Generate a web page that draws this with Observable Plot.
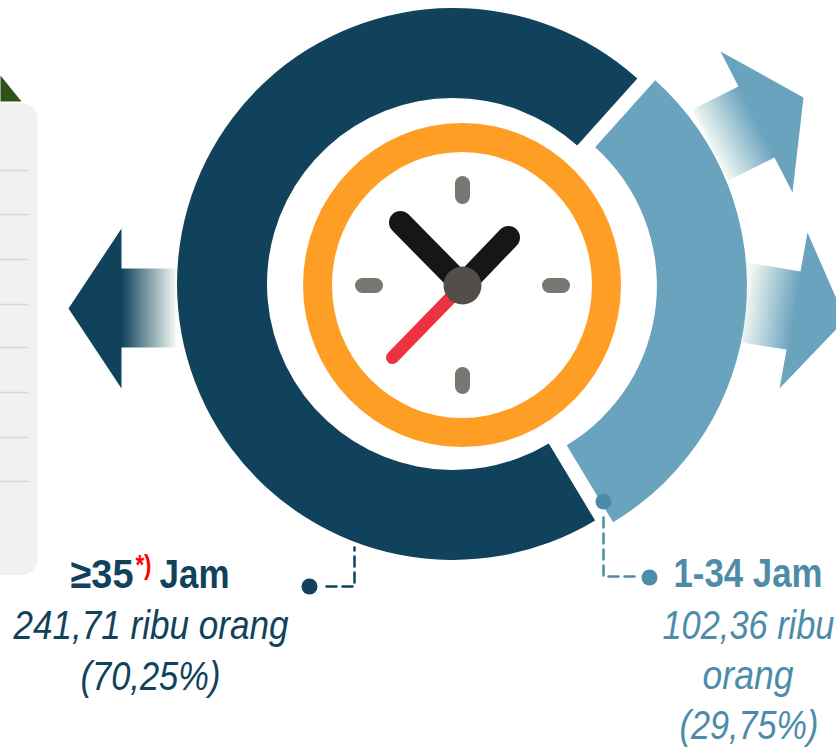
<!DOCTYPE html>
<html>
<head>
<meta charset="utf-8">
<script src="https://cdn.jsdelivr.net/npm/d3@7"></script>
<script src="https://cdn.jsdelivr.net/npm/@observablehq/plot@0.6"></script>
<style>html,body{margin:0;padding:0;background:#fff;overflow:hidden}svg{display:block}</style>
</head>
<body>
<div id="chart"></div>
<script>
// Data
const hourGroups = ["≥35", "1-34"];
const unitLabel = "Jam";
const footnoteMark = "*)";
const workers = [241.71, 102.36];
const shares = [70.25, 29.75];

// Palette
const DARK = "#11425C", LIGHT = "#6AA3BE", LIGHT_TEXT = "#4D8CA9", FADE = "#F2F8F3";
const FONT = "Liberation Sans";
const fmt = (v) => d3.format(".2f")(v).replace(".", ",");

// Shapes
const pt = (x, y) => ({x, y});
const poly = (pts, fill) => Plot.line(pts, {x: "x", y: "y", fill, stroke: "none"});
const seg = (x1, y1, x2, y2, stroke, strokeWidth) =>
  Plot.link([0], {x1, y1, x2, y2, stroke, strokeWidth, strokeLinecap: "round"});
const dot = (x, y, r, fill) => Plot.dot([0], {x, y, r, fill, stroke: "none"});
const ellipse = (cx, cy, rx, ry, fill) => (index, {x, y}) =>
  d3.create("svg:ellipse").attr("cx", x(cx)).attr("cy", y(cy))
    .attr("rx", rx).attr("ry", ry).attr("fill", fill).node();

// Text condensed horizontally to the width it has in the chart
const ruler = document.createElement("canvas").getContext("2d");
const condense = (str, width, font) => (i, s, v, d, c, next) => {
  const g = next(i, s, v, d, c);
  ruler.font = font;
  const sx = width / ruler.measureText(str).width;
  d3.select(g).selectAll("text").attr("transform", function () {
    return `${this.getAttribute("transform") || ""} scale(${sx},1)`;
  });
  return g;
};
const label = (str, x, y, width, fill, {fontWeight = "normal", fontStyle = "normal", fontSize = 41} = {}) =>
  Plot.text([str], {
    text: (d) => d, x, y, fill, textAnchor: "start", lineAnchor: "bottom",
    fontFamily: FONT, fontSize, fontWeight, fontStyle,
    render: condense(str, width, `${fontStyle} ${fontWeight} ${fontSize}px "${FONT}"`)
  });
const BOLD = {fontWeight: "bold"}, ITALIC = {fontStyle: "italic"};

// Gradient defs, placed through the position scales
function gradient(id, x1, y1, x2, y2, from, to) {
  return (index, {x, y}) => {
    const g = d3.create("svg:defs").append("linearGradient")
      .attr("id", id).attr("gradientUnits", "userSpaceOnUse")
      .attr("x1", x(x1)).attr("y1", y(y1)).attr("x2", x(x2)).attr("y2", y(y2));
    g.append("stop").attr("offset", 0).attr("stop-color", from);
    g.append("stop").attr("offset", 1).attr("stop-color", to);
    return g.node().parentNode;
  };
}

// Exploded donut drawn from the shares
const explode = [0, 18];
function donut(index, {x, y}) {
  const start = 149 * Math.PI / 180;
  const slices = d3.pie().sort(null).startAngle(start).endAngle(start + 2 * Math.PI)(shares);
  const arc = d3.arc().innerRadius(186).outerRadius(276);
  const g = d3.create("svg:g");
  slices.forEach((s, i) => {
    const mid = (s.startAngle + s.endAngle) / 2;
    const cx = x(453) + explode[i] * Math.sin(mid);
    const cy = y(284) - explode[i] * Math.cos(mid);
    g.append("path").attr("d", arc(s)).attr("fill", [DARK, LIGHT][i])
      .attr("transform", `translate(${cx},${cy})`);
  });
  return g.node();
}

const tableRules = [170, 214, 259, 304, 347, 392, 437, 481];

const chart = Plot.plot({
  width: 836, height: 748, margin: 0,
  style: {background: "#fff", overflow: "hidden"},
  x: {domain: [0, 836], range: [0, 836], axis: null},
  y: {domain: [0, 748], range: [0, 748], axis: null},
  marks: [
    gradient("gLeft", 121, 308, 175, 308, DARK, FADE),
    gradient("gUp", 710, 145, 756, 121, FADE, LIGHT),
    gradient("gRight", 745, 302, 795, 310, FADE, LIGHT),

    // Cropped table panel on the left
    poly([pt(0, 75), pt(21, 101), pt(0, 101)], "#2F5219"),
    Plot.rect([0], {x1: -30, x2: 37.5, y1: 103, y2: 575, fill: "#F1F1F1", rx: 16}),
    Plot.ruleY(tableRules, {x1: 0, x2: 28, y: (d) => d, stroke: "#D6D6D6", strokeWidth: 1.5}),

    // Arrows
    poly([pt(175, 268), pt(121, 268), pt(121, 228), pt(68, 308), pt(121, 388), pt(121, 347), pt(175, 347)], "url(#gLeft)"),
    poly([pt(692, 109), pt(738, 86), pt(720, 51), pt(803, 97), pt(792, 192), pt(774, 157), pt(728, 180)], "url(#gUp)"),
    poly([pt(746, 262), pt(800, 271), pt(807, 232), pt(845, 319), pt(779, 388), pt(786, 349), pt(741, 342)], "url(#gRight)"),

    donut,

    // Clock
    ellipse(462, 285, 159, 162, "#FF9E25"),
    ellipse(462, 285, 130, 133, "#FFFFFF"),
    seg(462, 183, 462, 196, "#7A7672", 15),
    seg(462, 374, 462, 386, "#7A7672", 15),
    seg(362, 285, 375, 285, "#7A7672", 15),
    seg(549, 285, 562, 285, "#7A7672", 15),
    seg(462, 285, 400, 222, "#161616", 23),
    seg(462, 285, 508, 237, "#161616", 23),
    seg(462, 285, 392, 357, "#EE3340", 13),
    dot(462, 285, 19, "#524E4C"),

    // Leaders
    Plot.line([pt(326, 586), pt(354, 586), pt(354, 547)], {x: "x", y: "y", stroke: DARK, strokeWidth: 2.5, strokeDasharray: "10,6"}),
    dot(309, 586, 8, DARK),
    Plot.line([pt(603, 517), pt(603, 576), pt(640, 576)], {x: "x", y: "y", stroke: LIGHT_TEXT, strokeWidth: 2.5, strokeDasharray: "10,6"}),
    dot(603, 501, 8, LIGHT_TEXT),
    dot(649, 577, 8, LIGHT_TEXT),

    // Labels
    label(hourGroups[0], 70, 587, 63, DARK, BOLD),
    label(footnoteMark, 135, 573, 16, "#FF0000", {...BOLD, fontSize: 27}),
    label(unitLabel, 159, 587, 70, DARK, BOLD),
    label(`${fmt(workers[0])} ribu orang`, 13, 638, 275, DARK, ITALIC),
    label(`(${fmt(shares[0])}%)`, 80, 689, 140, DARK, ITALIC),

    label(`${hourGroups[1]} ${unitLabel}`, 673, 586, 149, LIGHT_TEXT, BOLD),
    label(`${fmt(workers[1])} ribu`, 662, 638, 172, LIGHT_TEXT, ITALIC),
    label("orang", 702, 688, 91, LIGHT_TEXT, ITALIC),
    label(`(${fmt(shares[1])}%)`, 679, 738, 139, LIGHT_TEXT, ITALIC)
  ]
});
document.getElementById("chart").append(chart);
</script>
</body>
</html>
